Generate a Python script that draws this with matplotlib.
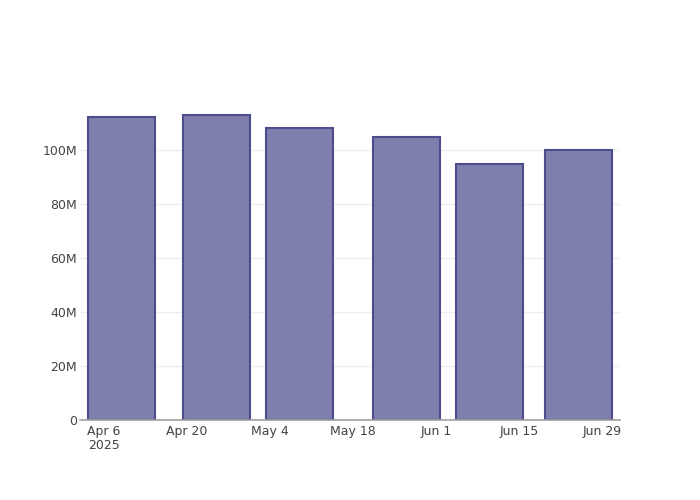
import datetime as dt
import matplotlib
matplotlib.use('Agg')
import matplotlib.pyplot as plt
import matplotlib.dates as mdates
import matplotlib.ticker as ticker

# bar dates and values
dates = [dt.date(2025, 4, 9), dt.date(2025, 4, 25), dt.date(2025, 5, 9),
         dt.date(2025, 5, 27), dt.date(2025, 6, 10), dt.date(2025, 6, 25)]
values = [112.3e6, 113.0e6, 108.4e6, 105.1e6, 94.8e6, 100.2e6]

tick_dates = [dt.date(2025, 4, 6), dt.date(2025, 4, 20), dt.date(2025, 5, 4),
              dt.date(2025, 5, 18), dt.date(2025, 6, 1), dt.date(2025, 6, 15),
              dt.date(2025, 6, 29)]
tick_labels = ['Apr 6\n2025', 'Apr 20', 'May 4', 'May 18', 'Jun 1', 'Jun 15', 'Jun 29']

fig = plt.figure(figsize=(7, 5), dpi=100)
ax = fig.add_axes([80 / 700, 80 / 500, 540 / 700, 320 / 500])

x = mdates.date2num(dates)
ax.bar(x, values, width=11.2, color='#7f7fae', edgecolor='#4c4c8e',
       linewidth=1.5, zorder=3)

ax.set_xlim(x[0] - 7, x[-1] + 7)
ax.set_ylim(0, max(values) * 1.05)

ax.set_xticks(mdates.date2num(tick_dates))
ax.set_xticklabels(tick_labels, ha='center', va='top', linespacing=1.1)
ax.set_yticks([0, 20e6, 40e6, 60e6, 80e6, 100e6])
ax.yaxis.set_major_formatter(ticker.FuncFormatter(
    lambda v, p: '0' if v == 0 else f'{int(v / 1e6)}M'))

ax.tick_params(axis='both', length=0, labelsize=9, colors='#444444')
ax.tick_params(axis='x', pad=3.5)
ax.tick_params(axis='y', pad=2)

ax.grid(axis='y', color='#eeeeee', linewidth=1, zorder=0)
ax.set_axisbelow(True)
for side in ['top', 'right', 'left']:
    ax.spines[side].set_visible(False)
ax.spines['bottom'].set_color('#a0a0a0')
ax.spines['bottom'].set_linewidth(1.2)
ax.spines['bottom'].set_zorder(4)

fig.patch.set_facecolor('white')
ax.set_facecolor('white')
fig.savefig('out.png', dpi=100, facecolor='white')
